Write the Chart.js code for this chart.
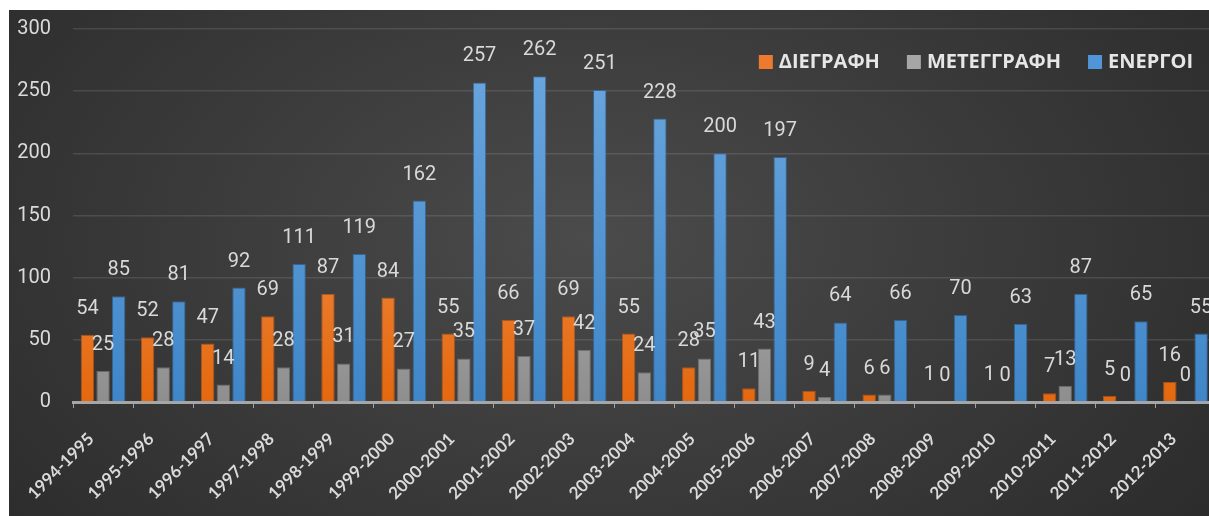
<!DOCTYPE html>
<html>
<head>
<meta charset="utf-8">
<script src="https://cdn.jsdelivr.net/npm/chart.js@4.4.1/dist/chart.umd.min.js"></script>
<style>
  html, body { margin: 0; padding: 0; background: #fff; overflow: hidden; }
  #wrap {
    position: absolute; left: 9px; top: 10px; width: 1212px; height: 506px; overflow: hidden;
    background: radial-gradient(ellipse 75% 110% at 48% 45%, #4b4b4b 0%, #3a3a3a 45%, #262626 100%);
  }
  #chart { position: absolute; left: 0; top: -15px; }
</style>
</head>
<body>
<div id="wrap"><canvas id="chart" width="1212" height="521"></canvas></div>
<script>
// Academic years
const years = [
  "1994-1995", "1995-1996", "1996-1997", "1997-1998", "1998-1999",
  "1999-2000", "2000-2001", "2001-2002", "2002-2003", "2003-2004",
  "2004-2005", "2005-2006", "2006-2007", "2007-2008", "2008-2009",
  "2009-2010", "2010-2011", "2011-2012", "2012-2013"
];

// Series values
const deletions = [54, 52, 47, 69, 87, 84, 55, 66, 69, 55, 28, 11, 9, 6, 1, 1, 7, 5, 16];
const transfers = [25, 28, 14, 28, 31, 27, 35, 37, 42, 24, 35, 43, 4, 6, 0, 0, 13, 0, 0];
const active = [85, 81, 92, 111, 119, 162, 257, 262, 251, 228, 200, 197, 64, 66, 70, 63, 87, 65, 55];

const seriesNames = ["ΔΙΕΓΡΑΦΗ", "ΜΕΤΕΓΓΡΑΦΗ", "ΕΝΕΡΓΟΙ"];
const yMax = 300;
const yStep = 50;

// vertical gradient over the plot area
function barFill(top, bottom) {
  return (ctx) => {
    const area = ctx.chart.chartArea;
    if (!area) return bottom;
    const g = ctx.chart.ctx.createLinearGradient(0, area.bottom, 0, area.top);
    g.addColorStop(0, bottom);
    g.addColorStop(1, top);
    return g;
  };
}

// numbers above every bar
const valueLabels = {
  id: "valueLabels",
  afterDatasetsDraw(chart) {
    const ctx = chart.ctx;
    ctx.save();
    ctx.font = "20px Roboto";
    ctx.fillStyle = "#d9d9d9";
    ctx.textAlign = "center";
    ctx.textBaseline = "bottom";
    chart.data.datasets.forEach((ds, i) => {
      chart.getDatasetMeta(i).data.forEach((bar, j) => {
        ctx.fillText(ds.data[j], bar.x, bar.y - 16);
      });
    });
    ctx.restore();
  }
};

// legend drawn inside the plot, top right
const insideLegend = {
  id: "insideLegend",
  afterDraw(chart) {
    const ctx = chart.ctx;
    ctx.save();
    ctx.font = "bold 20px 'Open Sans'";
    ctx.textBaseline = "middle";
    const swatchColors = ["#ee7a30", "#a6a6a6", "#4f95d8"];
    let x = 1184;
    const y = chart.chartArea.top + 33;
    for (let i = seriesNames.length - 1; i >= 0; i--) {
      const w = ctx.measureText(seriesNames[i]).width;
      x -= w;
      ctx.fillStyle = "#e6e6e6";
      ctx.fillText(seriesNames[i], x, y);
      ctx.fillStyle = swatchColors[i];
      ctx.fillRect(x - 20, y - 7, 14, 14);
      x -= 20 + 27;
    }
    ctx.restore();
  }
};

new Chart(document.getElementById("chart"), {
  type: "bar",
  data: {
    labels: years,
    datasets: [
      {
        label: seriesNames[0],
        data: deletions,
        backgroundColor: barFill("#f9a46c", "#e4680e"),
        borderColor: "rgba(200, 90, 20, 0.8)",
        borderWidth: 1
      },
      {
        label: seriesNames[1],
        data: transfers,
        backgroundColor: barFill("#cfcfcf", "#8e8e8e"),
        borderColor: "rgba(120, 120, 120, 0.8)",
        borderWidth: 1
      },
      {
        label: seriesNames[2],
        data: active,
        backgroundColor: barFill("#6ea9e0", "#3f86c8"),
        borderColor: "rgba(50, 110, 170, 0.8)",
        borderWidth: 1
      }
    ]
  },
  options: {
    responsive: false,
    animation: false,
    datasets: {
      bar: { categoryPercentage: 0.78, barPercentage: 0.86 }
    },
    layout: { padding: { top: 4, right: 4, left: 0, bottom: 0 } },
    plugins: {
      legend: { display: false },
      tooltip: { enabled: false }
    },
    scales: {
      x: {
        grid: {
          display: true,
          drawOnChartArea: false,
          color: "#a0a0a0",
          tickLength: 6,
          lineWidth: 1
        },
        border: { display: true, color: "#a6a6a6", width: 3 },
        ticks: {
          color: "#dadada",
          font: { family: "Lato", weight: "bold", size: 17 },
          minRotation: 45,
          maxRotation: 45,
          autoSkip: false,
          padding: 21,
          labelOffset: -12
        },
        afterFit(scale) { scale.height = 114; }
      },
      y: {
        min: 0,
        max: yMax,
        grid: {
          color: "rgba(255, 255, 255, 0.11)",
          lineWidth: 1.5,
          drawTicks: false
        },
        border: { display: false },
        ticks: {
          stepSize: yStep,
          color: "#dadada",
          font: { family: "Roboto", size: 20 },
          padding: 22
        },
        afterFit(scale) { scale.width = 64; }
      }
    }
  },
  plugins: [valueLabels, insideLegend]
});
</script>
</body>
</html>
